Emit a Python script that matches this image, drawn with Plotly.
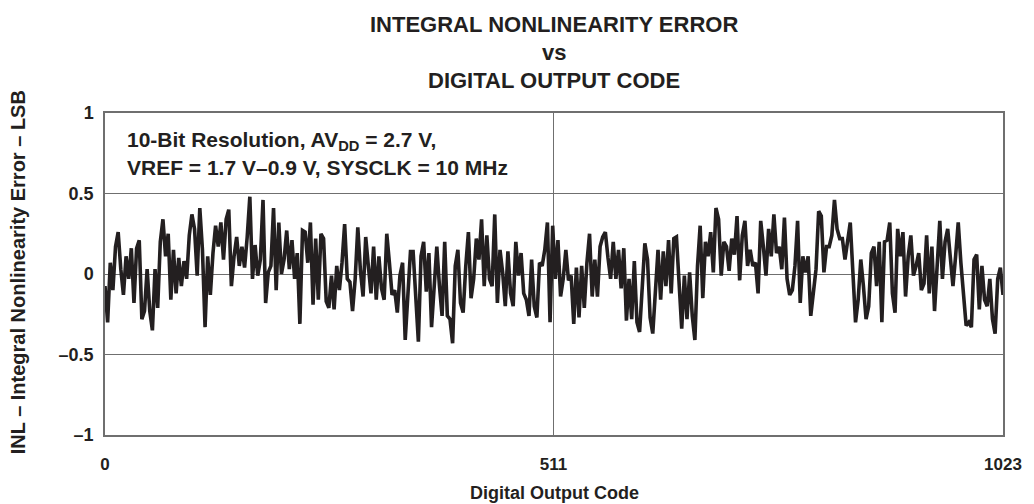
import plotly.graph_objects as go

# INL readings, one every 3 codes (0, 3, ... 1023)
codes = list(range(0, 1024, 3))
inl_lsb = [
    -0.075, -0.30, 0.07, -0.10, 0.17, 0.26, 0.03, -0.13, 0.11, -0.03,
    0.16, -0.18, 0.16, 0.21, -0.28, -0.23, 0.03, -0.23, -0.35, 0.03,
    -0.21, 0.20, 0.34, 0.11, 0.25, -0.16, 0.15, -0.12, 0.10, -0.075,
    0.08, -0.03, 0.24, 0.37, 0.28, -0.01, 0.41, 0.15, -0.33, 0.11,
    -0.13, 0.13, 0.30, 0.17, 0.32, 0.09, 0.34, 0.40, -0.075, 0.11,
    0.23, 0.05, 0.17, 0.04, 0.23, 0.48, -0.03, 0.18, -0.01,
    0.09, 0.46, -0.18, 0.01, 0.05, 0.41, -0.10, 0.32, 0.00, 0.09,
    0.27, 0.03, 0.21, -0.03, 0.13, -0.31, 0.27, 0.26, 0.07, 0.32,
    -0.19, 0.22, -0.16, 0.25, 0.22, -0.17, -0.21, -0.01, -0.22, 0.05,
    -0.10, 0.07, 0.31, -0.03, -0.05, -0.23, -0.03, 0.29, 0.02, -0.14,
    0.23, 0.05, -0.12, 0.17, -0.16, 0.11, -0.09, -0.16, 0.25, 0.07,
    -0.13, -0.10, -0.24, -0.01, 0.07, -0.41, -0.16, 0.14,
    0.14, -0.16, -0.42, 0.11, 0.20, -0.11, 0.13, -0.33, -0.03, 0.17,
    -0.075, -0.26, 0.20, -0.26, -0.28, -0.43, 0.05, 0.15, -0.18, -0.24,
    0.05, 0.26, -0.15, -0.03, 0.22, 0.09, 0.34, -0.075, 0.24, -0.03,
    -0.075, 0.37, -0.18, 0.15, 0.01, -0.20, 0.14, -0.12, -0.20, 0.20,
    -0.01, 0.13, -0.12, -0.16, -0.26, 0.09, -0.20, -0.27, 0.07, 0.05,
    0.15, 0.32, -0.30, 0.30, -0.03, 0.21, -0.14, -0.03, 0.15,
    -0.04, -0.01, -0.31, 0.04, -0.27, 0.05, -0.21, 0.07, 0.25, -0.14,
    0.09, -0.14, 0.17, 0.23, 0.26, 0.10, -0.03, 0.20, -0.03, 0.15,
    -0.09, 0.16, -0.29, -0.03, -0.28, 0.08, -0.30, -0.36, -0.06, 0.19,
    0.09, -0.27, -0.37, -0.06, 0.15, -0.16, 0.14, -0.075, 0.21, -0.12,
    0.22, 0.23, -0.03, -0.34, -0.01, -0.28, 0.01, -0.26, -0.41, 0.05,
    0.30, -0.15, 0.20, 0.11, 0.26, 0.01, 0.41, 0.34, -0.01,
    0.20, 0.17, 0.02, 0.22, 0.12, 0.36, -0.04, 0.24, 0.33, 0.05,
    0.15, 0.05, 0.07, -0.12, 0.33, 0.17, -0.01, 0.28, 0.11, 0.37,
    0.13, 0.17, 0.03, 0.35, -0.03, -0.13, -0.10, 0.05, 0.33, -0.18,
    0.11, 0.01, 0.11, -0.26, -0.12, 0.03, 0.39, 0.36, 0.01, 0.17,
    0.17, 0.24, 0.46, 0.28, 0.22, 0.22, 0.09, 0.20, 0.32, 0.01,
    -0.30, -0.16, 0.09, -0.075, -0.28, -0.20, 0.13,
    0.17, -0.075, 0.20, -0.30, 0.20, 0.21, 0.32, -0.12, -0.24, 0.28,
    0.11, 0.26, -0.14, 0.11, 0.24, -0.01, 0.05, 0.13, -0.10, -0.06,
    0.24, -0.12, 0.17, -0.23, 0.05, 0.33, -0.03, 0.20, 0.28, 0.09,
    -0.075, 0.11, 0.32, 0.07, -0.15, -0.32, -0.30, -0.33, 0.09, 0.12,
    -0.22, 0.05, -0.16, -0.20, -0.03, -0.28, -0.37, -0.03, 0.04, -0.13,
]

x_ticks = [0, 511, 1023]
x_tick_labels = ["0", "511", "1023"]
y_ticks = [-1, -0.5, 0, 0.5, 1]
y_tick_labels = ["\u20131", "\u20130.5", "0", "0.5", "1"]

title_lines = ["INTEGRAL NONLINEARITY ERROR", "vs", "DIGITAL OUTPUT CODE"]
note_lines = ["10-Bit Resolution, AV<sub>DD</sub> = 2.7 V,",
              "VREF = 1.7 V\u20130.9 V, SYSCLK = 10 MHz"]

FONT = "Liberation Sans, Arial, Helvetica, sans-serif"
INK = "#231f20"
GRID = "#6f6f6f"

fig = go.Figure()
fig.add_trace(go.Scatter(x=codes, y=inl_lsb, mode="lines",
                         line=dict(color=INK, width=3.6), showlegend=False))

# page body has an 8px margin, so the figure is a bit smaller than the window
fig.update_layout(
    width=1026, height=496,
    margin=dict(l=97, r=26, t=105, b=69),
    plot_bgcolor="white", paper_bgcolor="white",
    font=dict(family=FONT, color=INK, weight="bold"),
)

fig.update_xaxes(
    range=[0, 1023], tickvals=x_ticks, ticktext=x_tick_labels,
    showgrid=True, gridcolor=GRID, gridwidth=1,
    showline=True, linecolor=GRID, linewidth=1.5, mirror=True,
    zeroline=False, ticks="", ticklabelstandoff=13,
    tickfont=dict(family=FONT, size=17, color=INK, weight="bold"),
)
fig.update_yaxes(
    range=[-1, 1], tickvals=y_ticks, ticktext=y_tick_labels,
    showgrid=True, gridcolor=GRID, gridwidth=1,
    showline=True, linecolor=GRID, linewidth=1.5, mirror=True,
    zeroline=False, ticks="", ticklabelstandoff=6,
    tickfont=dict(family=FONT, size=18, color=INK, weight="bold"),
)

# three-line title
for text, ypos in zip(title_lines, [1.276, 1.189, 1.102]):
    fig.add_annotation(text=text, xref="paper", yref="paper", x=0.5, y=ypos,
                       showarrow=False, xanchor="center", yanchor="middle",
                       font=dict(family=FONT, size=22, color=INK, weight="bold"))

# conditions note inside the plot
for text, ypos in zip(note_lines, [0.912, 0.832]):
    fig.add_annotation(text=text, xref="paper", yref="paper", x=0.022, y=ypos,
                       showarrow=False, xanchor="left", yanchor="middle",
                       font=dict(family=FONT, size=21, color=INK, weight="bold"))

# axis titles
fig.add_annotation(text="Digital Output Code", xref="paper", yref="paper",
                   x=0.5, y=-0.18, showarrow=False, yanchor="middle",
                   font=dict(family=FONT, size=18, color=INK, weight="bold"))
fig.add_annotation(text="INL \u2013 Integral Nonlinearity Error \u2013 LSB",
                   xref="paper", yref="paper", x=-0.097, y=0.505, textangle=-90,
                   showarrow=False, xanchor="center", yanchor="middle",
                   font=dict(family=FONT, size=20, color=INK, weight="bold"))

fig.write_html("out.html")
